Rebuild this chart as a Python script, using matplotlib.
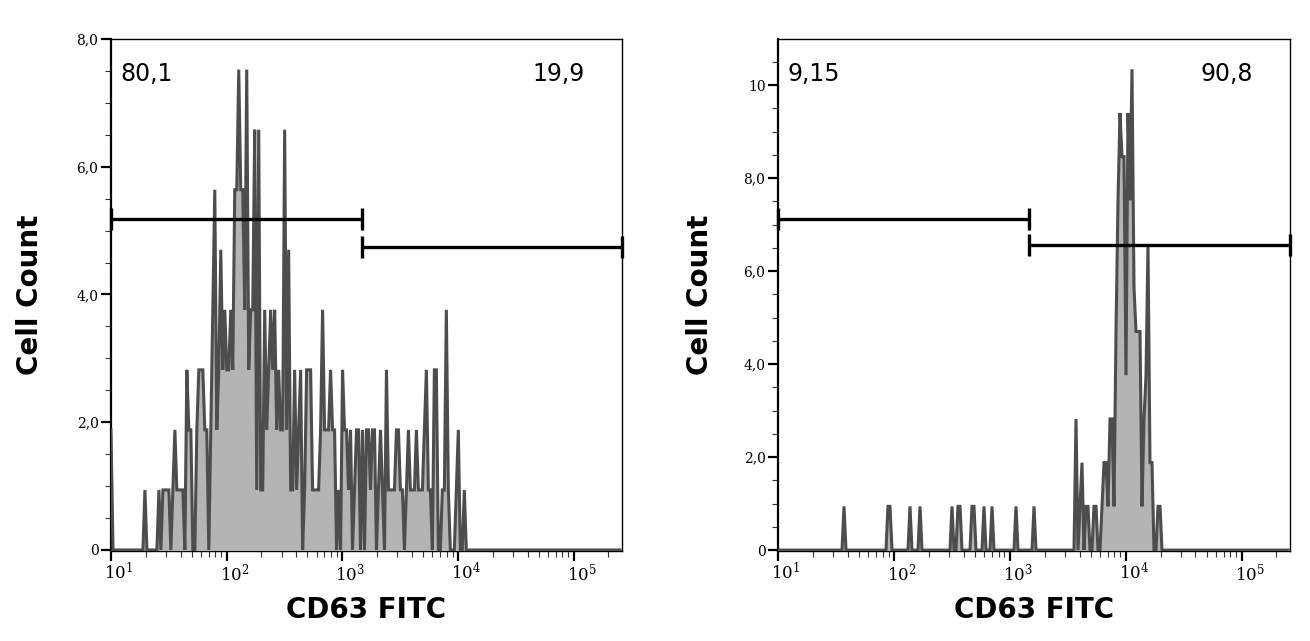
import numpy as np
import matplotlib
matplotlib.use("Agg")
import matplotlib.pyplot as plt
import matplotlib.transforms as mtransforms
from matplotlib.ticker import FixedLocator, NullFormatter

# ---------------- data ----------------
X_MIN, X_MAX = 10, 262144          # CD63 FITC axis range
N_CHANNELS = 256
EVENT_UNIT = 0.94                  # y value of one event

# events per channel, CD63 FITC, left sample
left_counts = [
    2, 0, 0, 0, 0, 0, 0, 0, 0, 0, 0, 0, 0, 0, 0, 0, 0, 1, 0, 0, 0, 0, 0, 0, 1, 0, 1, 1, 1, 1, 0, 1,
    2, 1, 1, 1, 1, 0, 3, 2, 2, 0, 0, 2, 3, 3, 3, 2, 2, 0, 2, 4, 6, 2, 3, 5, 3, 4, 3, 3, 4, 3, 6, 6,
    8, 6, 6, 4, 8, 3, 4, 4, 7, 1, 7, 1, 1, 4, 2, 3, 4, 3, 4, 2, 3, 2, 2, 7, 2, 5, 1, 1, 3, 1, 2, 3,
    0, 1, 3, 3, 3, 1, 1, 1, 1, 2, 4, 2, 2, 2, 3, 2, 2, 0, 1, 0, 3, 2, 2, 1, 2, 0, 1, 2, 2, 0, 2, 0,
    2, 2, 1, 2, 2, 0, 1, 2, 1, 0, 3, 1, 1, 1, 1, 2, 2, 1, 1, 0, 1, 2, 1, 1, 1, 2, 1, 1, 1, 2, 3, 1,
    1, 0, 3, 3, 0, 0, 1, 1, 4, 1, 0, 0, 0, 1, 2, 0, 0, 1, 0, 0, 0, 0, 0, 0, 0, 0, 0, 0, 0, 0, 0, 0,
    0, 0, 0, 0, 0, 0, 0, 0, 0, 0, 0, 0, 0, 0, 0, 0, 0, 0, 0, 0, 0, 0, 0, 0, 0, 0, 0, 0, 0, 0, 0, 0,
    0, 0, 0, 0, 0, 0, 0, 0, 0, 0, 0, 0, 0, 0, 0, 0, 0, 0, 0, 0, 0, 0, 0, 0, 0, 0, 0, 0, 0, 0, 0, 0,
]

# events per channel, CD63 FITC, right sample
right_counts = [
    0, 0, 0, 0, 0, 0, 0, 0, 0, 0, 0, 0, 0, 0, 0, 0, 0, 0, 0, 0, 0, 0, 0, 0, 0, 0, 0, 0, 0, 0, 0, 0,
    0, 1, 0, 0, 0, 0, 0, 0, 0, 0, 0, 0, 0, 0, 0, 0, 0, 0, 0, 0, 0, 0, 0, 1, 1, 0, 0, 0, 0, 0, 0, 0,
    0, 0, 1, 0, 0, 0, 0, 1, 0, 0, 0, 0, 0, 0, 0, 0, 0, 0, 0, 0, 0, 0, 0, 1, 0, 0, 1, 1, 0, 0, 0, 0,
    0, 1, 1, 0, 0, 0, 0, 1, 0, 0, 0, 1, 0, 0, 0, 0, 0, 0, 0, 0, 0, 0, 0, 1, 0, 0, 0, 0, 0, 0, 0, 0,
    1, 0, 0, 0, 0, 0, 0, 0, 0, 0, 0, 0, 0, 0, 0, 0, 0, 0, 0, 0, 0, 3, 0, 1, 2, 0, 1, 1, 0, 0, 1, 1,
    0, 0, 1, 2, 2, 1, 3, 3, 1, 5, 8, 10, 9, 9, 4, 10, 8, 11, 6, 5, 5, 5, 1, 3, 4, 7, 2, 2, 0, 0, 1, 1,
    0, 0, 0, 0, 0, 0, 0, 0, 0, 0, 0, 0, 0, 0, 0, 0, 0, 0, 0, 0, 0, 0, 0, 0, 0, 0, 0, 0, 0, 0, 0, 0,
    0, 0, 0, 0, 0, 0, 0, 0, 0, 0, 0, 0, 0, 0, 0, 0, 0, 0, 0, 0, 0, 0, 0, 0, 0, 0, 0, 0, 0, 0, 0, 0,
]

gate_split = 1480                  # boundary between the two gates
left_gate_y = [5.18, 4.75]         # heights of negative / positive gate bars
right_gate_y = [7.12, 6.56]
left_pcts = ["80,1", "19,9"]
right_pcts = ["9,15", "90,8"]

left_yticks = [0, 2, 4, 6, 8]
left_ylabels = ["0", "2,0", "4,0", "6,0", "8,0"]
right_yticks = [0, 2, 4, 6, 8, 10]
right_ylabels = ["0", "2,0", "4,0", "6,0", "8,0", "10"]
xticks = [1e1, 1e2, 1e3, 1e4, 1e5]
xlabels = [r"$10^{1}$", r"$10^{2}$", r"$10^{3}$", r"$10^{4}$", r"$10^{5}$"]
x_title = "CD63 FITC"
y_title = "Cell Count"

# ---------------- drawing ----------------
plt.rcParams["mathtext.fontset"] = "dejavuserif"
W, H = 1310, 641
fig = plt.figure(figsize=(W / 100, H / 100), dpi=100)

channels = np.logspace(np.log10(X_MIN), np.log10(X_MAX), N_CHANNELS + 1)[:-1]
LINE = "#4d4d4d"
FILL = "#b4b4b4"


def px_axes(x0, y0, x1, y1):
    return fig.add_axes([x0 / W, 1 - y1 / H, (x1 - x0) / W, (y1 - y0) / H])


def panel(ax, counts, ylim, yticks, ylabels, gate_y, pcts, cap_px):
    y = np.asarray(counts, dtype=float) * EVENT_UNIT
    ax.fill_between(channels, y, 0, color=FILL, lw=0, zorder=2)
    ax.plot(channels, y, color=LINE, lw=2.2, zorder=3, solid_joinstyle="miter")
    ax.set_xscale("log")
    ax.set_xlim(X_MIN, X_MAX)
    ax.set_ylim(*ylim)

    # gates
    unit_px = 512 / (ylim[1] - ylim[0])
    cap = cap_px / unit_px
    segs = [(X_MIN, gate_split, gate_y[0]), (gate_split, X_MAX, gate_y[1])]
    for x0, x1, gy in segs:
        ax.plot([x0, x1], [gy, gy], color="black", lw=2.4, zorder=5,
                solid_capstyle="butt", clip_on=False)
        for xe in (x0, x1):
            ax.plot([xe, xe], [gy - cap, gy + cap], color="black", lw=2.4,
                    zorder=5, solid_capstyle="butt", clip_on=False)

    # percentages
    ax.text(0.0176, 0.9316, pcts[0], transform=ax.transAxes, ha="left",
            va="center", fontsize=17, family="DejaVu Sans")
    ax.text(0.927, 0.9316, pcts[1], transform=ax.transAxes, ha="right",
            va="center", fontsize=17, family="DejaVu Sans")

    # ticks
    ax.xaxis.set_major_locator(FixedLocator(xticks))
    ax.set_xticklabels(xlabels, fontsize=12)
    minor = [m * 10 ** d for d in range(1, 6) for m in range(2, 10)]
    minor = [v for v in minor if X_MIN < v < X_MAX]
    ax.xaxis.set_minor_locator(FixedLocator(minor))
    ax.xaxis.set_minor_formatter(NullFormatter())
    ax.yaxis.set_major_locator(FixedLocator(yticks))
    ax.set_yticklabels(ylabels, fontsize=10, family="DejaVu Serif")
    yminor = [v for v in np.arange(0.5, ylim[1], 0.5) if v not in yticks]
    ax.yaxis.set_minor_locator(FixedLocator(yminor))
    ax.tick_params(axis="both", which="major", direction="out", length=7,
                   width=1.6, color="black")
    ax.tick_params(axis="both", which="minor", direction="out", length=4,
                   width=0.8, color="#333333")
    ax.tick_params(axis="y", which="major", pad=2)
    ax.tick_params(axis="x", which="major", pad=1)
    shift = mtransforms.ScaledTranslation(8 / 100, 0, fig.dpi_scale_trans)
    for t in ax.xaxis.get_major_ticks():
        t.label1.set_transform(t.label1.get_transform() + shift)

    for s in ax.spines.values():
        s.set_linewidth(1.0)
        s.set_color("black")
    ax.spines["left"].set_linewidth(1.6)
    ax.set_facecolor("white")


axL = px_axes(111, 39, 622, 551)
panel(axL, left_counts, (-0.016, 8.0), left_yticks, left_ylabels,
      left_gate_y, left_pcts, 11)
axR = px_axes(778, 39, 1290, 551)
panel(axR, right_counts, (-0.02, 10.99), right_yticks, right_ylabels,
      right_gate_y, right_pcts, 11)

# axis titles
for cx_x, cy_x in ((366, 610), (1034, 610)):
    fig.text(cx_x / W, 1 - cy_x / H, x_title, ha="center", va="center",
             fontsize=20, fontweight="bold", family="DejaVu Sans")
for cx_y in (30, 700):
    fig.text(cx_y / W, 1 - 295 / H, y_title, ha="center", va="center",
             rotation=90, fontsize=20, fontweight="bold", family="DejaVu Sans")

fig.savefig("out.png", dpi=100, facecolor="white")
